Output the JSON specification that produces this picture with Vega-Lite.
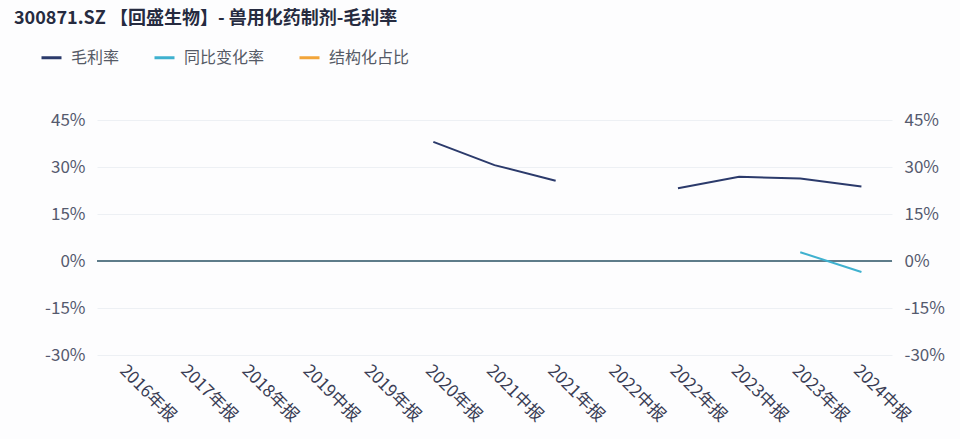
{
  "$schema": "https://vega.github.io/schema/vega-lite/v6.json",
  "width": 795,
  "height": 235,
  "autosize": {"type": "none"},
  "padding": {"left": 97, "top": 120, "right": 68, "bottom": 84},
  "background": "#fdfdfe",
  "config": {
    "font": "Noto Sans CJK SC",
    "view": {"stroke": null}
  },
  "title": {
    "text": "300871.SZ 【回盛生物】- 兽用化药制剂-毛利率",
    "anchor": "start",
    "frame": "group",
    "dx": -83,
    "offset": 18,
    "fontSize": 18,
    "fontWeight": 600,
    "color": "#262b40"
  },
  "data": {
    "values": [
      {"period": "2020年报", "series": "毛利率", "value": 38.0},
      {"period": "2021中报", "series": "毛利率", "value": 30.6},
      {"period": "2021年报", "series": "毛利率", "value": 25.6},
      {"period": "2022中报", "series": "毛利率", "value": null},
      {"period": "2022年报", "series": "毛利率", "value": 23.2},
      {"period": "2023中报", "series": "毛利率", "value": 26.9},
      {"period": "2023年报", "series": "毛利率", "value": 26.3},
      {"period": "2024中报", "series": "毛利率", "value": 23.8},
      {"period": "2023年报", "series": "同比变化率", "value": 2.8},
      {"period": "2024中报", "series": "同比变化率", "value": -3.5}
    ]
  },
  "encoding": {
    "x": {
      "field": "period",
      "type": "ordinal",
      "scale": {
        "domain": ["2016年报", "2017年报", "2018年报", "2019中报", "2019年报", "2020年报", "2021中报", "2021年报", "2022中报", "2022年报", "2023中报", "2023年报", "2024中报"]
      },
      "axis": {
        "title": null,
        "labelAngle": 45,
        "labelFontSize": 17,
        "labelColor": "#3a3d55",
        "labelPadding": 7,
        "ticks": false,
        "domain": false,
        "grid": false
      }
    }
  },
  "layer": [
    {
      "mark": {"type": "rule", "color": "#5f7d8a", "strokeWidth": 1.2},
      "encoding": {
        "x": null,
        "y": {
          "datum": 0,
          "type": "quantitative",
          "scale": {"domain": [-30, 45], "nice": false},
          "axis": {
            "orient": "left",
            "title": null,
            "values": [-30, -15, 0, 15, 30, 45],
            "labelExpr": "datum.value + '%'",
            "labelFontSize": 17,
            "labelColor": "#555a6e",
            "labelPadding": 12,
            "domain": false,
            "ticks": false,
            "grid": true,
            "gridColor": "#edf0f4"
          }
        }
      }
    },
    {
      "mark": {"type": "line", "strokeWidth": 2, "invalid": "break-paths-filter-domains"},
      "encoding": {
        "y": {
          "field": "value",
          "type": "quantitative",
          "scale": {"domain": [-30, 45], "nice": false},
          "axis": {
            "orient": "right",
            "title": null,
            "values": [-30, -15, 0, 15, 30, 45],
            "labelExpr": "datum.value + '%'",
            "labelFontSize": 17,
            "labelColor": "#555a6e",
            "labelPadding": 12,
            "domain": false,
            "ticks": false,
            "grid": false
          }
        },
        "color": {
          "field": "series",
          "type": "nominal",
          "scale": {
            "domain": ["毛利率", "同比变化率", "结构化占比"],
            "range": ["#2b3a6b", "#3fb1cf", "#f2a53a"]
          },
          "legend": {
            "title": null,
            "orient": "none",
            "direction": "horizontal",
            "legendX": -57,
            "legendY": -74,
            "symbolType": "stroke",
            "symbolSize": 400,
            "symbolStrokeWidth": 3,
            "labelFontSize": 16,
            "labelColor": "#555a66",
            "labelOffset": 8,
            "columnPadding": 28
          }
        }
      }
    }
  ],
  "resolve": {"axis": {"y": "independent"}}
}
